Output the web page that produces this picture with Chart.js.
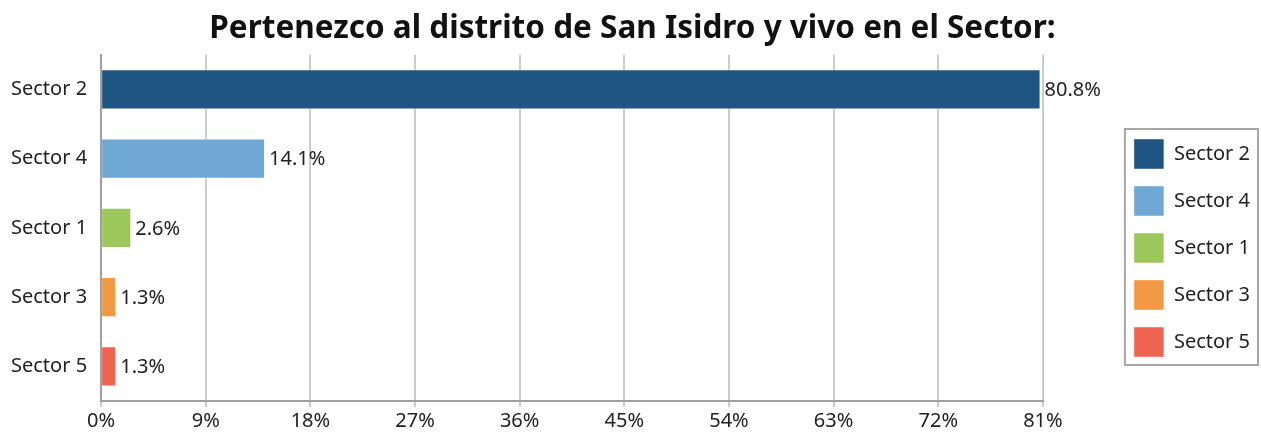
<!DOCTYPE html>
<html>
<head>
<meta charset="utf-8">
<script src="https://cdn.jsdelivr.net/npm/chart.js@4"></script>
<style>
  body { margin: 0; background: #fff; }
  #wrap { width: 1261px; height: 435px; position: relative; }
</style>
</head>
<body>
<div id="wrap"><canvas id="sectorChart"></canvas></div>
<script>
// Data
const sectors = ['Sector 2', 'Sector 4', 'Sector 1', 'Sector 3', 'Sector 5'];
const shares = [80.8, 14.1, 2.6, 1.3, 1.3];
const barColors = ['#1f5582', '#6fa7d5', '#9cc75a', '#f39843', '#ee6450'];
const xTicks = [0, 9, 18, 27, 36, 45, 54, 63, 72, 81];

const fontFamily = '"Noto Sans", "Open Sans", sans-serif';

// value labels at the end of each bar
const barLabels = {
    id: 'barLabels',
    afterDatasetsDraw(chart) {
        const ctx = chart.ctx;
        const meta = chart.getDatasetMeta(0);
        ctx.save();
        ctx.font = '20px ' + fontFamily;
        ctx.fillStyle = '#222';
        ctx.textBaseline = 'middle';
        ctx.textAlign = 'left';
        meta.data.forEach((bar, i) => {
            ctx.fillText(shares[i].toFixed(1) + '%', bar.x + 4, bar.y + 1);
        });
        ctx.restore();
    }
};

// grey frame round the legend
const legendFrame = {
    id: 'legendFrame',
    afterDraw(chart) {
        const boxes = chart.legend.legendHitBoxes;
        if (!boxes || !boxes.length) return;
        const left = Math.min(...boxes.map(b => b.left)) - 9;
        const top = Math.min(...boxes.map(b => b.top)) - 10;
        const right = Math.max(...boxes.map(b => b.left + b.width)) + 8;
        const bottom = Math.max(...boxes.map(b => b.top + b.height)) + 8;
        const ctx = chart.ctx;
        ctx.save();
        ctx.strokeStyle = '#a6a6a6';
        ctx.lineWidth = 2;
        ctx.strokeRect(left, top, right - left, bottom - top);
        ctx.restore();
    }
};

const ctx = document.getElementById('sectorChart').getContext('2d');
new Chart(ctx, {
    type: 'bar',
    data: {
        labels: sectors,
        datasets: [{
            label: 'Sector',
            data: shares,
            backgroundColor: barColors,
            borderColor: 'rgba(255,255,255,0.45)',
            borderWidth: 1,
            barPercentage: 0.58,
            categoryPercentage: 1.0
        }]
    },
    options: {
        indexAxis: 'y',
        responsive: true,
        maintainAspectRatio: false,
        animation: false,
        layout: { padding: { left: 5, right: 1, top: 0, bottom: 0 } },
        plugins: {
            title: {
                display: true,
                text: 'Pertenezco al distrito de San Isidro y vivo en el Sector:',
                color: '#111',
                font: { family: fontFamily, size: 31.5, weight: 'bold' },
                padding: { top: 10, bottom: 7 }
            },
            legend: {
                position: 'right',
                title: {
                    display: true,
                    text: ' ',
                    color: '#222',
                    font: { family: fontFamily, size: 20 },
                    padding: { top: 37, bottom: 0 }
                },
                labels: {
                    boxWidth: 30,
                    boxHeight: 30,
                    padding: 17,
                    color: '#222',
                    font: { family: fontFamily, size: 20 },
                    generateLabels: () => sectors.map((s, i) => ({
                        text: s,
                        fillStyle: barColors[i],
                        strokeStyle: 'rgba(255,255,255,0.45)',
                        fontColor: '#222',
                        lineWidth: 1,
                        hidden: false,
                        index: i
                    }))
                }
            },
            tooltip: { enabled: false }
        },
        scales: {
            x: {
                min: 0,
                max: 81,
                afterBuildTicks: (axis) => {
                    axis.ticks = xTicks.map(v => ({ value: v }));
                },
                ticks: {
                    color: '#222',
                    font: { family: fontFamily, size: 20 },
                    padding: 2,
                    callback: (v) => v + '%'
                },
                grid: { color: '#cccccc', lineWidth: 2, tickLength: 6 },
                border: { color: '#a0a0a0', width: 2 }
            },
            y: {
                ticks: {
                    color: '#222',
                    font: { family: fontFamily, size: 20 },
                    padding: 6
                },
                grid: { display: false },
                border: { color: '#a0a0a0', width: 2 }
            },
            // empty spacer between the plot and the legend
            gap: {
                type: 'linear',
                axis: 'y',
                position: 'right',
                display: true,
                ticks: { display: false },
                grid: { display: false },
                border: { display: false },
                afterFit: (scale) => { scale.width = 74; }
            }
        }
    },
    plugins: [barLabels, legendFrame]
});
</script>
</body>
</html>
